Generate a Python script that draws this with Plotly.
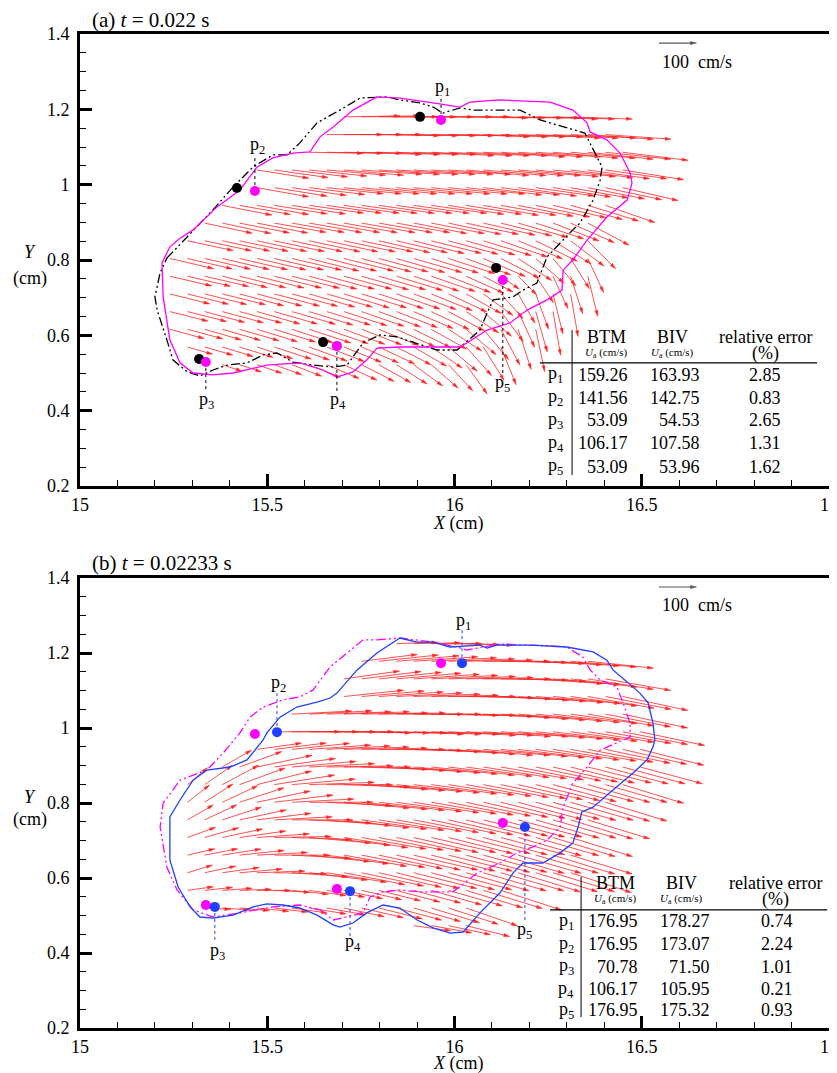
import math
import plotly.graph_objects as go

# ------------------------------------------------------------------ axes
X_RANGE = [15.0, 17.0]
Y_RANGE = [0.2, 1.4]
X_TICK_VALS = [15, 15.5, 16, 16.5, 17]
X_TICK_TEXT = ["15", "15.5", "16", "16.5", "17"]
Y_TICK_VALS = [0.2, 0.4, 0.6, 0.8, 1.0, 1.2, 1.4]
Y_TICK_TEXT = ["0.2", "0.4", "0.6", "0.8", "1", "1.2", "1.4"]

VEL_SCALE = 0.001      # cm of arrow per cm/s
REF_SPEED = 100        # reference arrow (cm/s)

# vector grid columns (cm)
GRID_X = [15.240, 15.287, 15.333, 15.380, 15.426, 15.473, 15.519, 15.566,
          15.612, 15.659, 15.705, 15.752, 15.798, 15.845, 15.891, 15.938,
          15.984, 16.031, 16.077, 16.124, 16.170, 16.217, 16.263, 16.310,
          16.356, 16.403, 16.449, 16.496]

# ------------------------------------------------------------------ panel (a) velocity field
A_ROW_Y = [1.180, 1.133, 1.086, 1.039, 0.992, 0.945, 0.898, 0.851, 0.804,
           0.757, 0.710, 0.663, 0.616, 0.569, 0.522]
A_ROW_K0 = [10, 9, 8, 5, 5, 3, 2, 1, 0, 0, 0, 0, 0, 1, 3]
A_ANGLE = [
    [1, 1, 0, 0, 0, 0, 0, -1, -1, -1, -1, -2, -2, -2],
    [0, 0, 0, -1, -1, -1, -1, -1, -2, -2, -2, -2, -3, -3, -3, -4, -4],
    [-1, -1, -1, -2, -2, -2, -2, -3, -3, -3, -3, -4, -4, -4, -5, -5, -6, -6, -7],
    [-9, -8, -7, -6, -5, -5, -4, -4, -4, -4, -4, -4, -5, -5, -5, -5, -6, -6, -7, -8, -8, -9],
    [-10, -9, -8, -7, -6, -6, -6, -6, -6, -6, -6, -6, -6, -7, -7, -8, -8, -9, -10, -11, -12, -13],
    [-11, -10, -10, -9, -9, -8, -8, -8, -8, -8, -8, -8, -8, -9, -9, -10, -10, -11, -12, -13, -15, -17, -19],
    [-12, -12, -11, -11, -10, -10, -10, -10, -10, -10, -10, -10, -11, -11, -12, -12, -13, -14, -16, -18, -21, -24, -28],
    [-12, -12, -12, -12, -12, -12, -12, -12, -12, -12, -12, -13, -13, -14, -14, -15, -16, -17, -19, -22, -26, -31, -37, -45],
    [-13, -13, -13, -13, -13, -13, -13, -13, -14, -14, -14, -15, -15, -16, -16, -17, -18, -20, -23, -27, -33, -41, -50, -58, -65],
    [-13, -13, -13, -14, -14, -14, -14, -14, -15, -15, -15, -16, -16, -17, -18, -19, -21, -24, -28, -35, -45, -56, -65, -72, -76],
    [-14, -14, -14, -14, -15, -15, -15, -15, -16, -16, -17, -17, -18, -19, -20, -22, -25, -29, -36, -48, -60, -70, -76, -80],
    [-14, -14, -15, -15, -15, -16, -16, -16, -17, -17, -18, -19, -20, -21, -23, -25, -28, -33, -41, -53, -65, -74, -80],
    [-15, -15, -16, -16, -16, -17, -17, -18, -18, -19, -20, -21, -22, -24, -26, -29, -33, -40, -50, -62, -72, -78],
    [-16, -16, -17, -17, -18, -18, -19, -20, -21, -22, -23, -25, -27, -30, -34, -40, -48, -58, -68],
    [-18, -18, -19, -20, -21, -22, -23, -25, -27, -29, -32, -36, -41, -47, -54],
]
A_SPEED = [
    [150, 155, 158, 160, 160, 162, 163, 165, 165, 165, 166, 166, 165, 165],
    [150, 155, 160, 163, 165, 166, 168, 170, 170, 172, 172, 173, 174, 175, 175, 176, 176],
    [145, 150, 155, 160, 163, 165, 167, 168, 170, 170, 172, 172, 173, 174, 175, 175, 176, 176, 176],
    [140, 145, 150, 155, 158, 160, 162, 163, 165, 165, 166, 167, 168, 168, 168, 168, 168, 168, 168, 167, 166, 165],
    [140, 143, 147, 150, 152, 154, 155, 156, 157, 158, 158, 158, 158, 158, 158, 158, 158, 157, 156, 155, 154, 152],
    [135, 138, 140, 143, 145, 147, 148, 149, 150, 150, 150, 150, 150, 150, 150, 150, 150, 150, 148, 146, 144, 142, 140],
    [130, 133, 136, 138, 140, 142, 143, 144, 145, 145, 145, 145, 145, 145, 144, 143, 142, 140, 138, 135, 132, 128, 125],
    [125, 128, 130, 133, 135, 137, 138, 139, 140, 140, 140, 140, 140, 139, 138, 137, 136, 134, 132, 128, 124, 118, 112, 105],
    [120, 123, 126, 129, 132, 134, 135, 136, 137, 137, 137, 137, 136, 135, 134, 132, 130, 127, 122, 115, 107, 100, 95, 95, 100],
    [115, 118, 121, 124, 127, 129, 130, 131, 132, 132, 132, 131, 130, 129, 127, 124, 120, 110, 90, 60, 70, 85, 95, 105, 110],
    [110, 113, 116, 119, 122, 124, 125, 126, 127, 127, 127, 126, 125, 123, 121, 118, 113, 107, 98, 88, 90, 100, 110, 115],
    [105, 108, 111, 114, 117, 119, 120, 121, 122, 122, 121, 120, 119, 117, 115, 112, 108, 104, 100, 100, 105, 112, 118],
    [95, 98, 102, 106, 110, 113, 115, 116, 117, 117, 116, 115, 114, 112, 110, 108, 106, 105, 105, 108, 112, 115],
    [70, 78, 86, 94, 100, 104, 106, 108, 108, 108, 107, 106, 104, 102, 100, 100, 102, 105, 108],
    [55, 62, 70, 78, 85, 90, 94, 97, 98, 98, 97, 96, 95, 95, 96],
]

# ------------------------------------------------------------------ panel (b) velocity field
B_ROW_Y = [1.225, 1.178, 1.131, 1.084, 1.037, 0.990, 0.943, 0.896, 0.849,
           0.802, 0.755, 0.708, 0.661, 0.614, 0.567, 0.520, 0.473]
B_ROW_K0 = [13, 11, 10, 10, 7, 6, 5, 3, 1, 1, 1, 1, 1, 1, 1, 2, 14]
B_ANGLE = [
    [2, 1, 0, -1, -2],
    [7, 6, 5, 4, 3, 2, 1, 0, -1, -2, -3, -4, -5, -6],
    [8, 7, 6, 5, 4, 3, 2, 1, 0, -1, -2, -4, -5, -7, -9, -10],
    [6, 5, 4, 3, 2, 1, 0, -1, -2, -3, -4, -5, -6, -8, -10, -11, -12],
    [3, 3, 2, 2, 1, 1, 0, 0, -1, -1, -2, -3, -4, -5, -6, -7, -8, -10, -11, -12],
    [0, 0, 0, 0, -1, -1, -1, -2, -2, -2, -3, -3, -4, -4, -5, -6, -7, -8, -9, -10, -11, -12],
    [8, 7, 6, 4, 3, 2, 1, 0, -1, -2, -3, -4, -5, -5, -6, -7, -8, -9, -10, -11, -12, -13, -14],
    [30, 20, 12, 8, 5, 3, 1, 0, -2, -3, -4, -5, -6, -7, -8, -9, -10, -11, -12, -13, -14, -14, -15, -15, -15],
    [40, 35, 28, 20, 14, 9, 5, 2, 0, -2, -4, -5, -6, -7, -8, -9, -10, -11, -12, -13, -14, -15, -15, -16, -16, -17],
    [38, 33, 25, 18, 12, 7, 3, 0, -3, -5, -6, -7, -8, -9, -10, -11, -12, -13, -14, -15, -15, -16, -16, -17, -17],
    [30, 25, 18, 12, 7, 3, 0, -3, -5, -7, -8, -9, -10, -11, -12, -13, -14, -14, -15, -15, -16, -16, -17, -17],
    [20, 16, 12, 8, 4, 1, -2, -5, -7, -9, -10, -11, -12, -13, -13, -14, -14, -15, -15, -16, -16, -17, -17],
    [13, 11, 9, 6, 3, 0, -3, -6, -8, -10, -11, -12, -13, -13, -14, -14, -15, -15, -16, -16, -16, -17, -17],
    [17, 12, 8, 5, 2, -1, -4, -7, -9, -11, -12, -13, -14, -14, -15, -15, -16, -16, -16, -17, -17, -17, -18],
    [8, 6, 4, 2, 0, -3, -6, -8, -10, -12, -13, -14, -15, -15, -16, -16, -17, -17, -18],
    [-3, -4, -5, -6, -7, -8, -9, -10, -12, -13, -14, -15, -16, -17, -18, -19],
    [-8, -10, -12, -14],
]
B_SPEED = [
    [110, 125, 135, 135, 125],
    [150, 160, 168, 172, 175, 177, 178, 178, 178, 178, 178, 178, 177, 176],
    [150, 160, 168, 173, 176, 178, 179, 180, 180, 180, 180, 180, 180, 179, 178, 177],
    [160, 168, 173, 176, 178, 180, 180, 181, 181, 181, 181, 181, 181, 180, 180, 179, 178],
    [160, 168, 172, 175, 177, 178, 179, 180, 180, 180, 180, 180, 180, 180, 180, 180, 180, 179, 178, 177],
    [177, 178, 178, 179, 179, 180, 180, 180, 180, 180, 180, 180, 180, 180, 180, 180, 180, 180, 179, 178, 177, 176],
    [120, 140, 155, 165, 170, 174, 176, 177, 178, 178, 179, 179, 179, 179, 179, 179, 179, 179, 178, 178, 177, 176, 175],
    [90, 120, 150, 165, 172, 175, 177, 178, 178, 178, 178, 178, 178, 178, 178, 178, 178, 178, 178, 177, 176, 175, 174, 173, 172],
    [70, 90, 110, 130, 150, 163, 170, 174, 176, 177, 177, 177, 177, 177, 177, 177, 177, 177, 177, 177, 176, 175, 174, 173, 172, 170],
    [75, 90, 105, 125, 145, 158, 166, 171, 174, 176, 177, 177, 177, 177, 177, 177, 177, 177, 177, 177, 176, 175, 174, 173, 172],
    [80, 95, 110, 128, 145, 155, 163, 168, 172, 175, 176, 177, 177, 177, 177, 177, 177, 177, 177, 177, 176, 175, 174, 173],
    [80, 95, 110, 125, 140, 152, 160, 166, 170, 173, 175, 176, 177, 177, 177, 177, 177, 177, 177, 176, 175, 174, 173],
    [75, 90, 105, 120, 135, 148, 157, 163, 167, 170, 172, 174, 175, 176, 176, 176, 176, 176, 176, 175, 174, 173, 172],
    [70, 85, 100, 115, 128, 140, 150, 157, 162, 166, 169, 171, 173, 174, 175, 175, 175, 175, 175, 174, 173, 172, 171],
    [70, 75, 80, 85, 90, 95, 98, 100, 103, 106, 110, 115, 120, 130, 140, 150, 158, 165, 170],
    [70, 75, 80, 85, 90, 95, 100, 105, 110, 115, 120, 125, 130, 135, 140, 145],
    [100, 110, 115, 120],
]

# ------------------------------------------------------------------ interface contours
A_MAG_X = [15.793, 15.854, 15.943, 16.015, 16.041, 16.121, 16.255, 16.316, 16.354, 16.362,
           16.407, 16.442, 16.469, 16.474, 16.461, 16.407, 16.354, 16.316, 16.290, 16.287,
           16.247, 16.194, 16.148, 16.087, 16.015, 15.854, 15.793, 15.766, 15.729, 15.686,
           15.649, 15.587, 15.499, 15.409, 15.355, 15.302, 15.267, 15.240, 15.222, 15.219,
           15.240, 15.267, 15.302, 15.366, 15.427, 15.473, 15.515, 15.569, 15.614, 15.641,
           15.676, 15.729, 15.793]
A_MAG_Y = [1.233, 1.230, 1.217, 1.206, 1.219, 1.225, 1.219, 1.198, 1.164, 1.140,
           1.119, 1.084, 1.031, 1.004, 0.959, 0.914, 0.853, 0.800, 0.773, 0.720,
           0.694, 0.667, 0.633, 0.614, 0.569, 0.569, 0.566, 0.535, 0.503, 0.489,
           0.508, 0.527, 0.521, 0.500, 0.495, 0.500, 0.527, 0.588, 0.702, 0.792,
           0.835, 0.858, 0.880, 0.941, 0.986, 1.047, 1.071, 1.084, 1.087, 1.127,
           1.153, 1.198, 1.233]

A_BLK_X = [15.232, 15.286, 15.355, 15.409, 15.462, 15.515, 15.553, 15.587, 15.633, 15.694,
           15.748, 15.820, 15.854, 15.908, 15.943, 15.969, 16.015, 16.049, 16.175, 16.228,
           16.316, 16.348, 16.367, 16.394, 16.389, 16.370, 16.335, 16.316, 16.282, 16.247,
           16.220, 16.183, 16.156, 16.103, 16.087, 16.068, 16.007, 15.953, 15.846, 15.801,
           15.756, 15.713, 15.676, 15.622, 15.569, 15.526, 15.489, 15.446, 15.393, 15.355,
           15.320, 15.286, 15.248, 15.232, 15.206, 15.200, 15.214, 15.232]
A_BLK_Y = [0.805, 0.861, 0.933, 0.994, 1.047, 1.079, 1.079, 1.111, 1.164, 1.198,
           1.230, 1.233, 1.225, 1.217, 1.206, 1.190, 1.204, 1.198, 1.198, 1.172,
           1.145, 1.137, 1.100, 1.047, 1.012, 0.959, 0.898, 0.880, 0.845, 0.808,
           0.739, 0.720, 0.702, 0.694, 0.659, 0.614, 0.561, 0.561, 0.596, 0.601,
           0.580, 0.521, 0.516, 0.521, 0.529, 0.553, 0.548, 0.527, 0.521, 0.508,
           0.492, 0.503, 0.535, 0.588, 0.667, 0.702, 0.766, 0.805]

B_MAG_X = [15.793, 15.854, 15.943, 16.007, 16.033, 16.121, 16.194, 16.300, 16.343, 16.362,
           16.389, 16.434, 16.450, 16.469, 16.469, 16.389, 16.354, 16.316, 16.290, 16.282,
           16.247, 16.210, 16.167, 16.121, 16.060, 15.996, 15.908, 15.854, 15.809, 15.774,
           15.756, 15.713, 15.676, 15.641, 15.587, 15.515, 15.427, 15.355, 15.302, 15.259,
           15.232, 15.214, 15.222, 15.267, 15.339, 15.382, 15.427, 15.454, 15.489, 15.542,
           15.587, 15.622, 15.668, 15.713, 15.756, 15.793]
B_MAG_Y = [1.235, 1.240, 1.229, 1.216, 1.208, 1.224, 1.221, 1.216, 1.189, 1.155,
           1.128, 1.109, 1.067, 1.013, 0.976, 0.941, 0.896, 0.853, 0.789, 0.736,
           0.701, 0.683, 0.667, 0.640, 0.613, 0.563, 0.563, 0.568, 0.563, 0.549,
           0.507, 0.496, 0.488, 0.515, 0.528, 0.523, 0.507, 0.496, 0.515, 0.568,
           0.629, 0.736, 0.800, 0.861, 0.888, 0.933, 0.987, 1.029, 1.056, 1.075,
           1.083, 1.101, 1.163, 1.200, 1.235, 1.235]

B_BLU_X = [15.854, 15.900, 15.943, 15.988, 16.068, 16.087, 16.113, 16.210, 16.300, 16.370,
           16.407, 16.423, 16.461, 16.495, 16.517, 16.530, 16.535, 16.530, 16.514, 16.477,
           16.423, 16.370, 16.340, 16.330, 16.316, 16.282, 16.236, 16.183, 16.156, 16.121,
           16.068, 16.023, 15.988, 15.943, 15.900, 15.854, 15.809, 15.766, 15.729, 15.694,
           15.676, 15.633, 15.587, 15.542, 15.499, 15.462, 15.409, 15.355, 15.320, 15.294,
           15.262, 15.240, 15.240, 15.267, 15.302, 15.339, 15.401, 15.446, 15.489, 15.499,
           15.534, 15.579, 15.633, 15.668, 15.686, 15.740, 15.793, 15.849, 15.854]
B_BLU_Y = [1.240, 1.229, 1.229, 1.216, 1.221, 1.213, 1.221, 1.221, 1.216, 1.203,
           1.181, 1.155, 1.123, 1.093, 1.067, 1.013, 0.968, 0.949, 0.915, 0.880,
           0.835, 0.789, 0.776, 0.736, 0.693, 0.667, 0.640, 0.640, 0.613, 0.560,
           0.507, 0.456, 0.453, 0.467, 0.488, 0.520, 0.528, 0.507, 0.480, 0.469,
           0.475, 0.501, 0.520, 0.528, 0.531, 0.523, 0.501, 0.493, 0.496, 0.523,
           0.576, 0.648, 0.763, 0.808, 0.861, 0.888, 0.896, 0.915, 0.968, 0.987,
           1.029, 1.056, 1.069, 1.080, 1.093, 1.155, 1.200, 1.235, 1.240]

# ------------------------------------------------------------------ probe points p1..p5
POINT_NAMES = ["p<sub>1</sub>", "p<sub>2</sub>", "p<sub>3</sub>", "p<sub>4</sub>", "p<sub>5</sub>"]

A_BLACK_PX = [15.908, 15.419, 15.318, 15.649, 16.111]
A_BLACK_PY = [1.180, 0.991, 0.537, 0.582, 0.779]
A_MAG_PX = [15.964, 15.467, 15.336, 15.686, 16.129]
A_MAG_PY = [1.172, 0.983, 0.529, 0.572, 0.747]
A_LEAD_END_Y = [1.238, 1.079, 0.450, 0.450, 0.495]
A_LABEL_X = [15.967, 15.473, 15.339, 15.689, 16.127]
A_LABEL_Y = [1.257, 1.105, 0.426, 0.426, 0.471]

B_MAG_PX = [15.964, 15.467, 15.336, 15.686, 16.129]
B_MAG_PY = [1.173, 0.984, 0.528, 0.571, 0.747]
B_BLUE_PX = [16.020, 15.526, 15.360, 15.721, 16.188]
B_BLUE_PY = [1.173, 0.989, 0.523, 0.565, 0.736]
B_LEAD_END_Y = [1.267, 1.096, 0.427, 0.443, 0.488]
B_LABEL_X = [16.023, 15.529, 15.368, 15.729, 16.188]
B_LABEL_Y = [1.285, 1.120, 0.405, 0.427, 0.459]

# ------------------------------------------------------------------ tables (U_a in cm/s, error in %)
A_TAB_BTM = [159.26, 141.56, 53.09, 106.17, 53.09]
A_TAB_BIV = [163.93, 142.75, 54.53, 107.58, 53.96]
A_TAB_ERR = [2.85, 0.83, 2.65, 1.31, 1.62]
B_TAB_BTM = [176.95, 176.95, 70.78, 106.17, 176.95]
B_TAB_BIV = [178.27, 173.07, 71.50, 105.95, 175.32]
B_TAB_ERR = [0.74, 2.24, 1.01, 0.21, 0.93]

TITLE_A = "(a) <i>t</i> = 0.022 s"
TITLE_B = "(b) <i>t</i> = 0.02233 s"

# ------------------------------------------------------------------ styling
SERIF = "Liberation Serif"
RED = "rgb(255,35,35)"
MAGENTA = "#ff00ff"
BLUE = "#2040ff"
DASHDOT = "9px,3px,2px,3px,2px,3px"
OFF = 8                      # page body margin (px)
W, H = 837 - OFF, 1073 - OFF


def px_x(px):
    return (px - OFF) / W


def px_y(py):
    return 1 - (py - OFF) / H


fig = go.Figure()


def arrows(row_y, row_k0, angles, speeds):
    sx, sy, hx, hy = [], [], [], []
    for y0, k0, angs, spds in zip(row_y, row_k0, angles, speeds):
        for j, (a, s) in enumerate(zip(angs, spds)):
            if k0 + j >= len(GRID_X):
                break
            x0 = GRID_X[k0 + j]
            add_arrow(x0, y0, s, a, sx, sy, hx, hy)
    return sx, sy, hx, hy


def add_arrow(x0, y0, s, a, sx, sy, hx, hy):
    r = math.radians(a)
    c, d = math.cos(r), math.sin(r)
    L = s * VEL_SCALE
    ex, ey = x0 + L * c, y0 + L * d
    hl = min(0.016, 0.4 * L)
    hw = hl * 0.25
    bx, by = ex - hl * c, ey - hl * d
    sx += [x0, bx, None]
    sy += [y0, by, None]
    hx += [ex, bx - hw * d, bx + hw * d, ex, None]
    hy += [ey, by + hw * c, by - hw * c, ey, None]


def add_field(xa, ya, row_y, row_k0, angles, speeds):
    sx, sy, hx, hy = arrows(row_y, row_k0, angles, speeds)
    fig.add_trace(go.Scatter(x=sx, y=sy, mode="lines", xaxis=xa, yaxis=ya,
                             line=dict(color=RED, width=0.8), hoverinfo="skip"))
    fig.add_trace(go.Scatter(x=hx, y=hy, mode="lines", fill="toself", fillcolor=RED,
                             xaxis=xa, yaxis=ya, line=dict(color=RED, width=0.5),
                             hoverinfo="skip"))
    # reference arrow
    rx, ry, rhx, rhy = [], [], [], []
    add_arrow(16.546, 1.376, REF_SPEED, 0, rx, ry, rhx, rhy)
    fig.add_trace(go.Scatter(x=rx, y=ry, mode="lines", xaxis=xa, yaxis=ya,
                             line=dict(color="#555", width=1.2), hoverinfo="skip"))
    fig.add_trace(go.Scatter(x=rhx, y=rhy, mode="lines", fill="toself", fillcolor="#555",
                             xaxis=xa, yaxis=ya, line=dict(color="#555", width=0.6),
                             hoverinfo="skip"))


def add_line(xa, ya, xs, ys, color, dash=None, width=1.3):
    fig.add_trace(go.Scatter(x=xs, y=ys, mode="lines", xaxis=xa, yaxis=ya,
                             line=dict(color=color, width=width, dash=dash),
                             hoverinfo="skip"))


def add_points(xa, ya, xs, ys, color):
    fig.add_trace(go.Scatter(x=xs, y=ys, mode="markers", xaxis=xa, yaxis=ya,
                             marker=dict(color=color, size=10, line=dict(width=0)),
                             hoverinfo="skip"))


def add_leaders(xa, ya, xs, ys, yend, color):
    lx, ly = [], []
    for x, y, e in zip(xs, ys, yend):
        lx += [x, x, None]
        ly += [y, e, None]
    fig.add_trace(go.Scatter(x=lx, y=ly, mode="lines", xaxis=xa, yaxis=ya,
                             line=dict(color=color, width=1, dash="dot"), hoverinfo="skip"))


# panel (a)
add_field("x", "y", A_ROW_Y, A_ROW_K0, A_ANGLE, A_SPEED)
add_line("x", "y", A_BLK_X, A_BLK_Y, "black", DASHDOT, 1.3)
add_line("x", "y", A_MAG_X, A_MAG_Y, MAGENTA, None, 1.3)
add_leaders("x", "y", A_MAG_PX, A_MAG_PY, A_LEAD_END_Y, "black")
add_points("x", "y", A_BLACK_PX, A_BLACK_PY, "black")
add_points("x", "y", A_MAG_PX, A_MAG_PY, MAGENTA)

# panel (b)
add_field("x2", "y2", B_ROW_Y, B_ROW_K0, B_ANGLE, B_SPEED)
add_line("x2", "y2", B_MAG_X, B_MAG_Y, MAGENTA, DASHDOT, 1.3)
add_line("x2", "y2", B_BLU_X, B_BLU_Y, BLUE, None, 1.3)
add_leaders("x2", "y2", B_BLUE_PX, B_BLUE_PY, B_LEAD_END_Y, BLUE)
add_points("x2", "y2", B_MAG_PX, B_MAG_PY, MAGENTA)
add_points("x2", "y2", B_BLUE_PX, B_BLUE_PY, BLUE)

# ------------------------------------------------------------------ annotations
ann = []
shapes = []


def text(x, y, t, xref, yref, size=18, xanchor="center", yanchor="middle"):
    ann.append(dict(x=x, y=y, text=t, xref=xref, yref=yref, showarrow=False,
                    xanchor=xanchor, yanchor=yanchor,
                    font=dict(family=SERIF, size=size, color="black")))


def table(xref, yref, btm, biv, err, cfg):
    text(cfg["hb"], cfg["yh"], "BTM", xref, yref)
    text(cfg["hv"], cfg["yh"], "BIV", xref, yref)
    text(cfg["he"], cfg["yh"], "relative error", xref, yref)
    unit = "<i>U</i><sub>a</sub> (cm/s)"
    text(cfg["hb"], cfg["yu"], unit, xref, yref, size=11)
    text(cfg["hv"], cfg["yu"], unit, xref, yref, size=11)
    text(cfg["he"], cfg["yu"], "(%)", xref, yref)
    for i, yy in enumerate(cfg["rows"]):
        text(cfg["xp"], yy, POINT_NAMES[i], xref, yref)
        text(cfg["xb"], yy, f"{btm[i]:.2f}", xref, yref, xanchor="right")
        text(cfg["xv"], yy, f"{biv[i]:.2f}", xref, yref, xanchor="right")
        text(cfg["xe"], yy, f"{err[i]:.2f}", xref, yref)
    shapes.append(dict(type="line", xref=xref, yref=yref, x0=cfg["vx"], x1=cfg["vx"],
                       y0=cfg["vy"][0], y1=cfg["vy"][1], line=dict(color="black", width=1)))
    shapes.append(dict(type="line", xref=xref, yref=yref, x0=cfg["hx"][0], x1=cfg["hx"][1],
                       y0=cfg["hy"], y1=cfg["hy"], line=dict(color="black", width=1.2)))


TAB_A = dict(hb=16.405, hv=16.583, he=16.831, yh=0.596, yu=0.553,
             xp=16.271, xb=16.469, xv=16.661, xe=16.829,
             rows=[0.495, 0.434, 0.375, 0.314, 0.251],
             vx=16.314, vy=[0.614, 0.229], hx=[16.228, 16.968], hy=0.527)
TAB_B = dict(hb=16.431, hv=16.607, he=16.856, yh=0.587, yu=0.543,
             xp=16.298, xb=16.495, xv=16.688, xe=16.861,
             rows=[0.485, 0.424, 0.363, 0.304, 0.248],
             vx=16.338, vy=[0.603, 0.229], hx=[16.255, 16.995], hy=0.515)

table("x", "y", A_TAB_BTM, A_TAB_BIV, A_TAB_ERR, TAB_A)
table("x2", "y2", B_TAB_BTM, B_TAB_BIV, B_TAB_ERR, TAB_B)

for i in range(5):
    text(A_LABEL_X[i], A_LABEL_Y[i], POINT_NAMES[i], "x", "y")
    text(B_LABEL_X[i], B_LABEL_Y[i], POINT_NAMES[i], "x2", "y2")

text(16.549, 1.326, "100\u00a0 cm/s", "x", "y", size=18, xanchor="left")
text(16.549, 1.328, "100\u00a0 cm/s", "x2", "y2", size=18, xanchor="left")

# panel titles and axis titles (paper coords, from page pixels)
text(px_x(90), px_y(20), TITLE_A, "paper", "paper", size=21, xanchor="left")
text(px_x(90), px_y(563), TITLE_B, "paper", "paper", size=21, xanchor="left")
for yy, yc in ((252, 278), (797, 819)):
    text(px_x(30), px_y(yy), "<i>Y</i>", "paper", "paper", size=18)
    text(px_x(30), px_y(yc), "(cm)", "paper", "paper", size=18)
text(px_x(458), px_y(511), "<i>X</i> (cm)", "paper", "paper", size=18, yanchor="top")
text(px_x(458), px_y(1051), "<i>X</i> (cm)", "paper", "paper", size=18, yanchor="top")

# ------------------------------------------------------------------ layout
XDOM = [px_x(80), px_x(829)]
YDOM_A = [px_y(486), px_y(34)]
YDOM_B = [px_y(1028), px_y(578)]

base = dict(showline=True, linewidth=3, linecolor="black", mirror=True,
            ticks="inside", ticklen=12, tickwidth=2.5, tickcolor="black",
            showgrid=False, zeroline=False, automargin=False,
            ticklabeloverflow="allow",
            tickfont=dict(family=SERIF, size=18, color="black"))
xax = dict(base, range=X_RANGE, tickmode="array", tickvals=X_TICK_VALS, ticktext=X_TICK_TEXT,
           minor=dict(ticks="inside", ticklen=6, tickwidth=1, tickcolor="black",
                      dtick=0.1, tick0=15, showgrid=False))
yax = dict(base, range=Y_RANGE, tickmode="array", tickvals=Y_TICK_VALS, ticktext=Y_TICK_TEXT,
           ticklabelstandoff=4,
           minor=dict(ticks="inside", ticklen=6, tickwidth=1, tickcolor="black",
                      dtick=0.05, tick0=0.2, showgrid=False))

fig.update_layout(
    width=W, height=H, margin=dict(l=0, r=0, t=0, b=0, autoexpand=False),
    paper_bgcolor="white", plot_bgcolor="white", showlegend=False,
    xaxis=dict(xax, domain=XDOM, anchor="y"),
    yaxis=dict(yax, domain=YDOM_A, anchor="x"),
    xaxis2=dict(xax, domain=XDOM, anchor="y2"),
    yaxis2=dict(yax, domain=YDOM_B, anchor="x2"),
    annotations=ann, shapes=shapes,
)

fig.write_html("out.html")
